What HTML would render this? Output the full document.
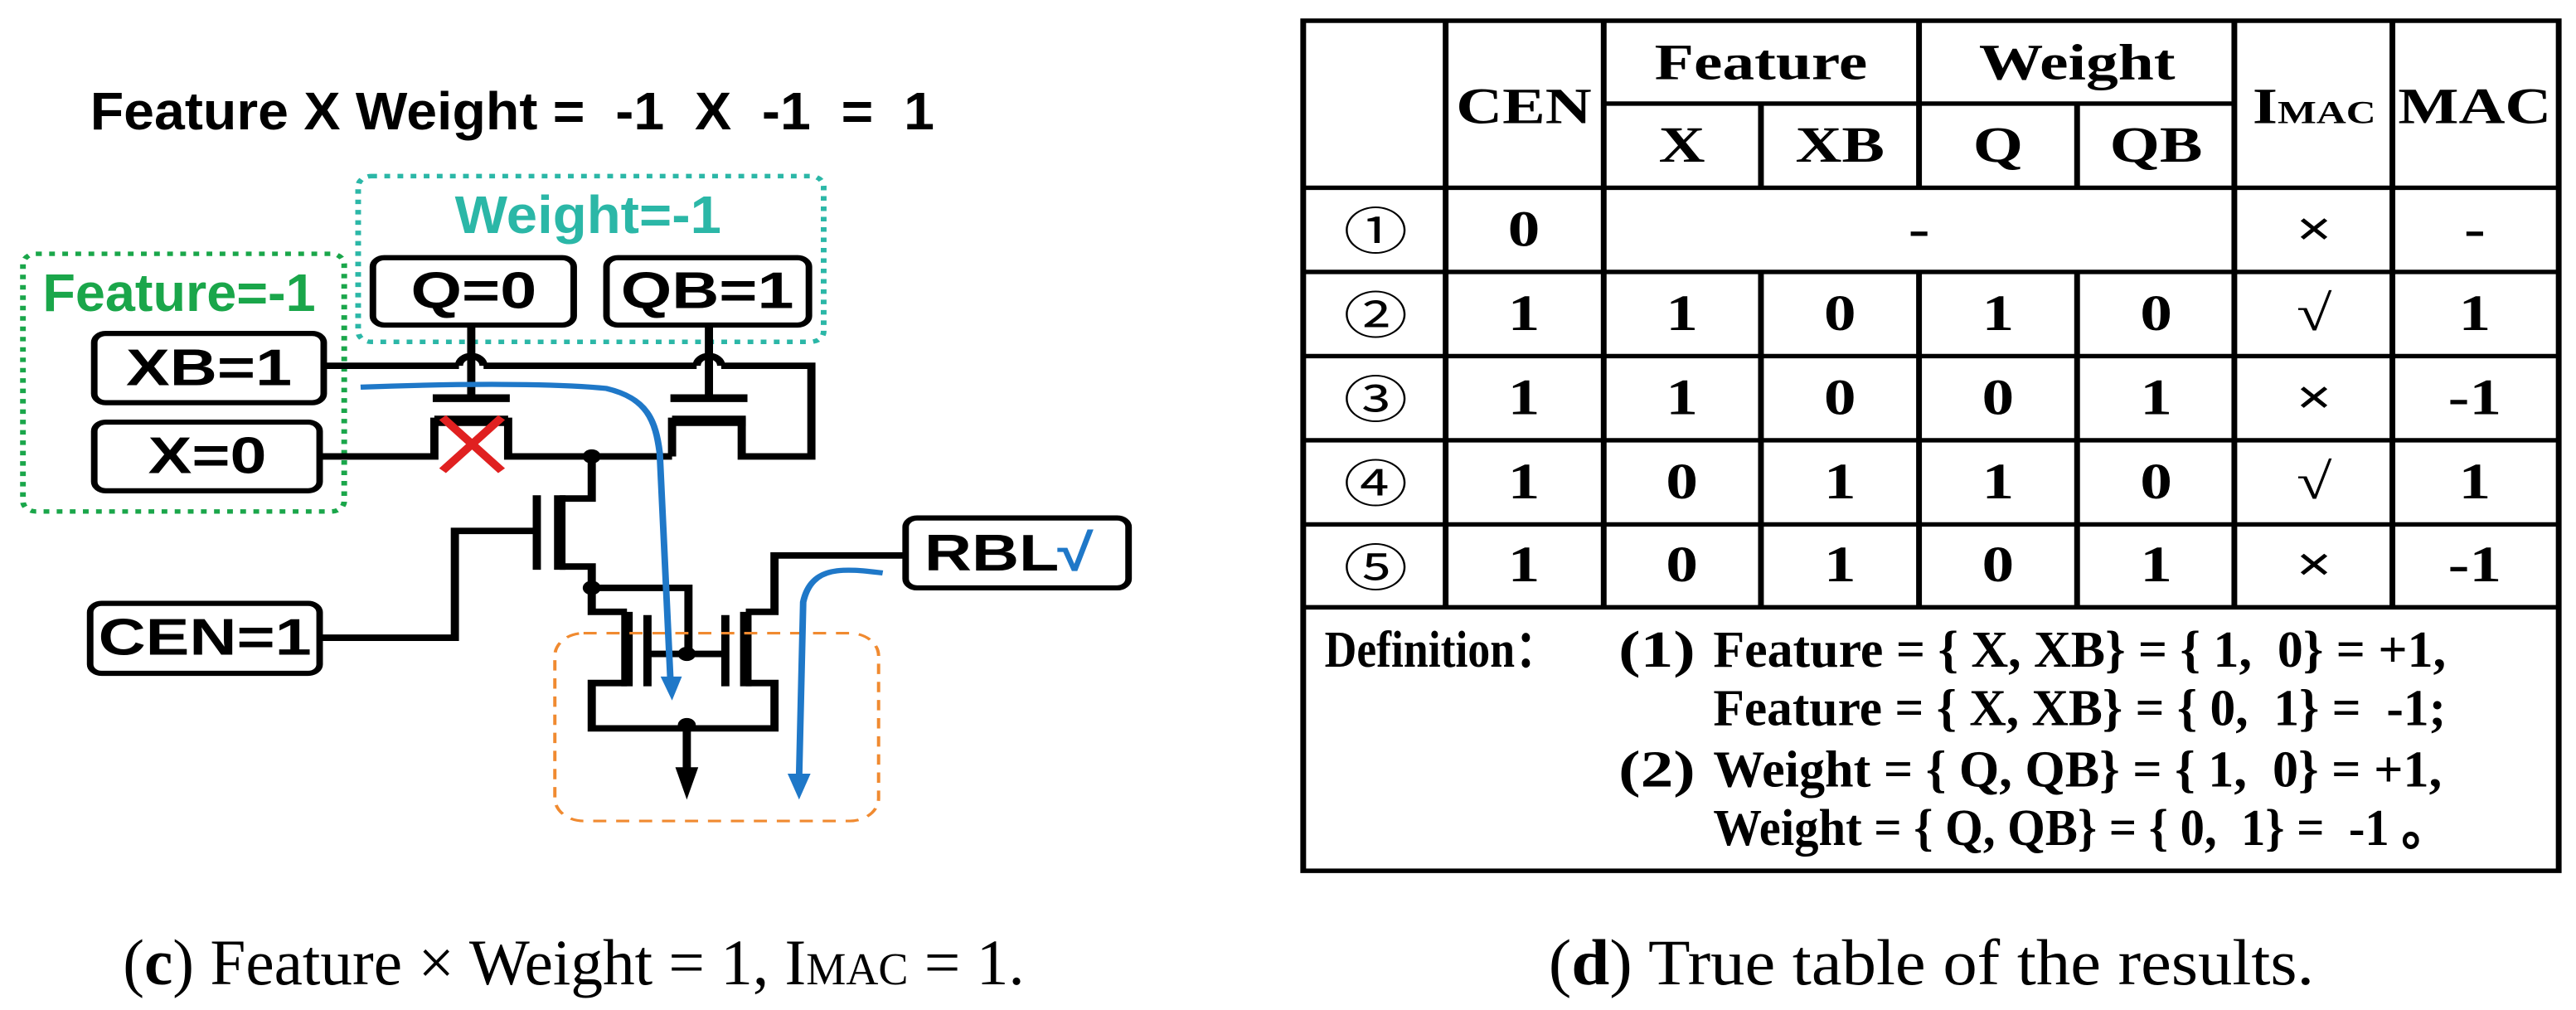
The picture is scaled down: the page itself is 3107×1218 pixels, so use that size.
<!DOCTYPE html>
<html><head><meta charset="utf-8"><style>
html,body{margin:0;padding:0;background:#fff;width:3107px;height:1218px;overflow:hidden}
svg{display:block}
text{white-space:pre}
.s{font-family:"Liberation Sans","DejaVu Sans",sans-serif;font-weight:bold}
.r{font-family:"Liberation Serif","DejaVu Serif",serif}
</style></head><body>
<svg width="3107" height="1218" viewBox="0 0 3107 1218" xml:space="preserve">
<svg x="0" y="0" width="1550" height="1218" viewBox="0 0 1568 1560" preserveAspectRatio="none">
<text class="s" x="110" y="200" font-size="82" textLength="1030" lengthAdjust="spacingAndGlyphs">Feature X Weight =  -1  X  -1  =  1</text>
<rect x="437" y="272" width="568" height="256" rx="16" fill="none" stroke="#2bb7a7" stroke-width="7" stroke-dasharray="7 9"/>
<text class="s" x="555" y="360" font-size="82" fill="#2bb7a7" textLength="325" lengthAdjust="spacingAndGlyphs">Weight=-1</text>
<rect x="28" y="392" width="392" height="398" rx="16" fill="none" stroke="#1aa64a" stroke-width="7" stroke-dasharray="7 9"/>
<text class="s" x="52" y="480" font-size="82" fill="#1aa64a" textLength="333" lengthAdjust="spacingAndGlyphs">Feature=-1</text>
<g fill="#fff" stroke="#000" stroke-width="8">
<rect x="455" y="398" width="245" height="104" rx="14"/>
<rect x="740" y="398" width="247" height="104" rx="14"/>
<rect x="115" y="515" width="280" height="107" rx="14"/>
<rect x="115" y="652" width="275" height="106" rx="14"/>
<rect x="110" y="932" width="280" height="108" rx="14"/>
<rect x="1105" y="800" width="272" height="108" rx="14"/>
</g>
<g class="s" font-size="80" text-anchor="middle">
<text x="578" y="476">Q=0</text>
<text x="863" y="476">QB=1</text>
<text x="255" y="595">XB=1</text>
<text x="253" y="731">X=0</text>
<text x="250" y="1011">CEN=1</text>
<text x="1210" y="881">RBL</text>
<text x="1312" y="881" fill="#1f78c8">√</text>
</g>
<g fill="none" stroke="#000" stroke-width="10">
<path d="M395 565H560 M590 565H850 M880 565H990V705H905V650H820V705 M820 705H620V650H530V705H390"/>
<path d="M560 565A15 15 0 0 1 590 565 M850 565A15 15 0 0 1 880 565"/>
<path d="M575 502V615 M865 502V615"/>
<path d="M722 705V770H683 M683 875H722V908H840V1010 M722 908V945H765 M765 1055H722V1125H945V1055H910 M910 945H945V858H1105"/>
<path d="M390 985H555V820H655"/>
<path d="M790 1010H885 M838 1125V1200"/>
</g>
<g stroke="#000">
<path d="M528 615H622 M818 615H912" stroke-width="12"/>
<path d="M530 650H620 M820 650H910" stroke-width="16"/>
<path d="M683 765V880" stroke-width="14"/>
<path d="M655 765V880" stroke-width="10"/>
<path d="M765 945V1060 M910 945V1060" stroke-width="14"/>
<path d="M790 950V1060 M885 950V1060" stroke-width="10"/>
</g>
<g fill="#000"><circle cx="722" cy="705" r="11"/><circle cx="722" cy="908" r="11"/><circle cx="838" cy="1010" r="11"/><circle cx="838" cy="1120" r="11"/>
<path d="M824 1185H852L838 1235Z"/></g>
<rect x="677" y="978" width="395" height="290" rx="35" fill="none" stroke="#f08a30" stroke-width="4" stroke-dasharray="16 12"/>
<g fill="none" stroke="#1f78c8" stroke-width="8">
<path d="M440 598C560 592 680 592 740 600C790 615 800 650 805 700L818 1050"/>
<path d="M1077 885C1030 878 990 872 980 930L975 1200"/>
</g>
<g fill="#1f78c8"><path d="M806 1045H832L820 1082Z"/><path d="M961 1195H989L975 1235Z"/></g>
<g stroke="#e02020" stroke-width="11"><path d="M540 645L612 727 M612 645L540 727"/></g>
<text class="r" x="150" y="1520" font-size="100" textLength="1100" lengthAdjust="spacingAndGlyphs">(<tspan font-weight="bold">c</tspan>) Feature × Weight = 1, I<tspan font-size="70">MAC</tspan> = 1.</text>
</svg>
<svg x="1550" y="0" width="1557" height="1218" viewBox="0 0 1568 1560" preserveAspectRatio="none">
<g stroke="#000" stroke-width="7" fill="none">
<rect x="22" y="32" width="1525" height="1313"/>
<path d="M195 32V938 M387 32V938 M1153 32V938 M1345 32V938 M770 32V290 M578 160V290 M962 160V290 M387 160H1153"/>
<path d="M578 420V938 M770 420V938 M962 420V938"/>
<path d="M22 290H1547 M22 420H1547 M22 550H1547 M22 680H1547 M22 810H1547 M22 938H1547"/>
</g>
<g class="r" font-weight="bold" font-size="78" text-anchor="middle">
<text x="290" y="190">CEN</text><text x="578" y="122">Feature</text><text x="962" y="122">Weight</text>
<text x="482" y="250">X</text><text x="674" y="250">XB</text><text x="866" y="250">Q</text><text x="1058" y="250">QB</text>
<text x="1250" y="190">I<tspan font-size="50">MAC</tspan></text><text x="1445" y="190">MAC</text>
<text x="290" y="380">0</text><text x="770" y="380">-</text><text x="1250" y="380">×</text><text x="1445" y="380">-</text>
<text x="290" y="510">1</text><text x="482" y="510">1</text><text x="674" y="510">0</text><text x="866" y="510">1</text><text x="1058" y="510">0</text><text x="1250" y="510">√</text><text x="1445" y="510">1</text>
<text x="290" y="640">1</text><text x="482" y="640">1</text><text x="674" y="640">0</text><text x="866" y="640">0</text><text x="1058" y="640">1</text><text x="1250" y="640">×</text><text x="1445" y="640">-1</text>
<text x="290" y="770">1</text><text x="482" y="770">0</text><text x="674" y="770">1</text><text x="866" y="770">1</text><text x="1058" y="770">0</text><text x="1250" y="770">√</text><text x="1445" y="770">1</text>
<text x="290" y="898">1</text><text x="482" y="898">0</text><text x="674" y="898">1</text><text x="866" y="898">0</text><text x="1058" y="898">1</text><text x="1250" y="898">×</text><text x="1445" y="898">-1</text>
</g>
<g font-family="'Liberation Sans','Noto Sans CJK SC',sans-serif" font-size="78" text-anchor="middle">
<text x="110" y="385">①</text><text x="110" y="515">②</text><text x="110" y="645">③</text><text x="110" y="775">④</text><text x="110" y="905">⑤</text>
</g>
<g class="r" font-weight="bold" font-size="80">
<text x="48" y="1030" textLength="285" lengthAdjust="spacingAndGlyphs">Definition：</text>
<text x="405" y="1030">(1)</text>
<text x="520" y="1030" textLength="890" lengthAdjust="spacingAndGlyphs">Feature = { X, XB} = { 1,  0} = +1,</text>
<text x="520" y="1120" textLength="890" lengthAdjust="spacingAndGlyphs">Feature = { X, XB} = { 0,  1} =  -1;</text>
<text x="405" y="1215">(2)</text>
<text x="520" y="1215" textLength="885" lengthAdjust="spacingAndGlyphs">Weight = { Q, QB} = { 1,  0} = +1,</text>
<text x="520" y="1305" textLength="895" lengthAdjust="spacingAndGlyphs">Weight = { Q, QB} = { 0,  1} =  -1 。</text>
</g>
<text class="r" x="320" y="1520" font-size="100" textLength="930" lengthAdjust="spacingAndGlyphs">(<tspan font-weight="bold">d</tspan>) True table of the results.</text>
</svg>
</svg>
</body></html>
